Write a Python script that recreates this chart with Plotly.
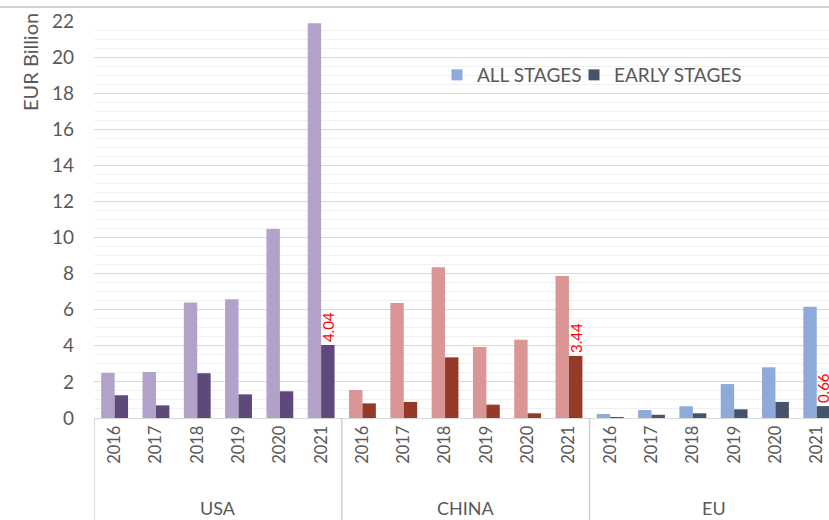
import plotly.graph_objects as go

countries = ["USA", "CHINA", "EU"]
years = ["2016", "2017", "2018", "2019", "2020", "2021"]

all_stages = {
    "USA":   [2.50, 2.55, 6.40, 6.58, 10.47, 21.87],
    "CHINA": [1.55, 6.37, 8.35, 3.93, 4.34, 7.87],
    "EU":    [0.22, 0.44, 0.65, 1.88, 2.81, 6.17],
}
early_stages = {
    "USA":   [1.26, 0.70, 2.48, 1.31, 1.48, 4.04],
    "CHINA": [0.81, 0.89, 3.36, 0.74, 0.26, 3.44],
    "EU":    [0.05, 0.18, 0.26, 0.48, 0.89, 0.66],
}

light_colors = {"USA": "#b2a1c8", "CHINA": "#d99694", "EU": "#8eaadb"}
dark_colors = {"USA": "#5f497a", "CHINA": "#953a28", "EU": "#44546a"}

n_years = len(years)
x_idx = list(range(len(countries) * n_years))
tick_text = [y for _ in countries for y in years]

all_vals = [v for c in countries for v in all_stages[c]]
early_vals = [v for c in countries for v in early_stages[c]]
all_cols = [light_colors[c] for c in countries for _ in years]
early_cols = [dark_colors[c] for c in countries for _ in years]
early_text = [(f"{v:.2f}" if y == years[-1] else "") for c in countries for y, v in zip(years, early_stages[c])]

FONT = "Lato"
GRAY = "#595959"

fig = go.Figure()
fig.add_trace(go.Bar(
    x=x_idx, y=all_vals, marker=dict(color=all_cols, line=dict(width=0)),
    showlegend=False, name="ALL STAGES",
))
fig.add_trace(go.Bar(
    x=x_idx, y=early_vals, marker=dict(color=early_cols, line=dict(width=0)),
    text=early_text, textposition="outside", textangle=-90, constraintext="none",
    textfont=dict(color="#ff0000", size=15, family=FONT),
    cliponaxis=False, showlegend=False, name="EARLY STAGES",
))
# legend-only entries
fig.add_trace(go.Scatter(x=[None], y=[None], mode="markers", name="ALL STAGES",
                         marker=dict(symbol="square", size=11, color=light_colors["EU"])))
fig.add_trace(go.Scatter(x=[None], y=[None], mode="markers", name="EARLY STAGES",
                         marker=dict(symbol="square", size=11, color=dark_colors["EU"])))
# invisible spacer entry so the last legend label is not clipped
fig.add_trace(go.Scatter(x=[None], y=[None], mode="markers", name=" ",
                         marker=dict(symbol="square", size=1, color="rgba(0,0,0,0)")))

ML, MT, MB, W, H = 94, 21, 102, 829, 520
plot_w = W - ML
plot_h = H - MT - MB
slot_px = 41.3
x_max = -0.5 + plot_w / slot_px

shapes = []
# group dividers below the axis
for gi in range(len(countries) + 1):
    xb = gi * n_years - 0.5
    shapes.append(dict(type="line", xref="x", yref="paper", x0=xb, x1=xb,
                       y0=0, y1=-MB / plot_h, line=dict(color="#d0d0d0", width=1.5)))
# chart frame top line
shapes.append(dict(type="line", xref="paper", yref="paper", x0=-ML / plot_w, x1=1,
                   y0=1 + 14 / plot_h, y1=1 + 14 / plot_h, line=dict(color="#bfbfbf", width=1.5)))

annotations = []
for gi, c in enumerate(countries):
    annotations.append(dict(x=gi * n_years + (n_years - 1) / 2, xref="x",
                            y=-90 / plot_h, yref="paper", text=c, showarrow=False,
                            xanchor="center", yanchor="middle",
                            font=dict(size=18, color=GRAY, family=FONT)))
annotations.append(dict(x=-64 / plot_w, xref="paper", y=1 - 41 / plot_h, yref="paper",
                        text="EUR Billion", textangle=-90, showarrow=False,
                        xanchor="center", yanchor="middle",
                        font=dict(size=20, color=GRAY, family=FONT)))

fig.update_layout(
    width=W, height=H,
    margin=dict(l=ML, r=0, t=MT, b=MB, autoexpand=False),
    paper_bgcolor="white", plot_bgcolor="white",
    barmode="group", bargap=0.35, bargroupgap=0,
    font=dict(family=FONT, color=GRAY),
    legend=dict(orientation="h", x=(437 - ML) / plot_w, y=(418 - 75) / plot_h,
                xanchor="left", yanchor="middle", entrywidth=92,
                font=dict(size=19, color=GRAY, family=FONT), bgcolor="rgba(0,0,0,0)",
                itemwidth=30, tracegroupgap=0),
    shapes=shapes, annotations=annotations,
)
fig.update_yaxes(
    range=[0, 22], dtick=2, showgrid=True, gridcolor="#d9d9d9", gridwidth=1,
    minor=dict(dtick=0.5, showgrid=True, gridcolor="#f0f0f0", gridwidth=1),
    zeroline=False, showline=False, automargin=False,
    tickfont=dict(size=19, color=GRAY), ticks="", ticklabelstandoff=19,
)
fig.update_xaxes(
    range=[-0.5, x_max], automargin=False, showgrid=False, zeroline=False,
    tickmode="array", tickvals=x_idx, ticktext=tick_text,
    showline=True, linecolor="#d9d9d9", linewidth=1,
    tickangle=-90, tickfont=dict(size=16.5, color=GRAY), ticks="",
)
fig.write_html("out.html", config={"displayModeBar": False},
               post_script="document.body.style.margin='0px';")
